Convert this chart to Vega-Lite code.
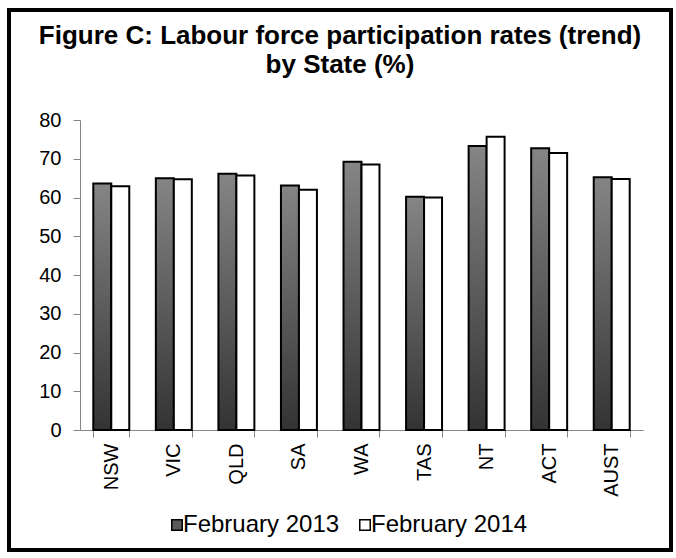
{
  "$schema": "https://vega.github.io/schema/vega-lite/v6.json",
  "width": 662,
  "height": 540,
  "autosize": {"type": "none"},
  "padding": {"left": 9, "top": 10, "right": 5, "bottom": 8},
  "background": "white",
  "title": {
    "text": ["Figure C: Labour force participation rates (trend)", "by State (%)"],
    "font": "Liberation Sans",
    "fontSize": 26,
    "fontWeight": "bold",
    "color": "black",
    "anchor": "middle",
    "frame": "group",
    "orient": "top",
    "baseline": "top",
    "offset": -68,
    "lineHeight": 29
  },
  "data": {
    "values": [
      {"state": "NSW", "series": "February 2013", "rate": 63.6},
      {"state": "NSW", "series": "February 2014", "rate": 62.9},
      {"state": "VIC", "series": "February 2013", "rate": 65.0},
      {"state": "VIC", "series": "February 2014", "rate": 64.7},
      {"state": "QLD", "series": "February 2013", "rate": 66.1},
      {"state": "QLD", "series": "February 2014", "rate": 65.7},
      {"state": "SA", "series": "February 2013", "rate": 63.1},
      {"state": "SA", "series": "February 2014", "rate": 62.0},
      {"state": "WA", "series": "February 2013", "rate": 69.2},
      {"state": "WA", "series": "February 2014", "rate": 68.5},
      {"state": "TAS", "series": "February 2013", "rate": 60.2},
      {"state": "TAS", "series": "February 2014", "rate": 60.0},
      {"state": "NT", "series": "February 2013", "rate": 73.3},
      {"state": "NT", "series": "February 2014", "rate": 75.7},
      {"state": "ACT", "series": "February 2013", "rate": 72.7},
      {"state": "ACT", "series": "February 2014", "rate": 71.5},
      {"state": "AUST", "series": "February 2013", "rate": 65.2},
      {"state": "AUST", "series": "February 2014", "rate": 64.8}
    ]
  },
  "mark": {"type": "bar", "stroke": "black", "strokeWidth": 2},
  "encoding": {
    "x": {
      "field": "state",
      "type": "nominal",
      "sort": ["NSW", "VIC", "QLD", "SA", "WA", "TAS", "NT", "ACT", "AUST"],
      "scale": {"range": [71, 634], "paddingInner": 0.425, "paddingOuter": 0.2125},
      "axis": {
        "orient": "bottom",
        "offset": -120,
        "title": null,
        "tickBand": "extent",
        "tickSize": 7,
        "labelAngle": -90,
        "labelPadding": 6,
        "labelFont": "Liberation Sans",
        "labelFontSize": 20,
        "labelColor": "black",
        "domainColor": "#868686",
        "tickColor": "#868686"
      }
    },
    "xOffset": {
      "field": "series",
      "type": "nominal",
      "scale": {"paddingInner": 0, "paddingOuter": 0}
    },
    "y": {
      "field": "rate",
      "type": "quantitative",
      "scale": {"domain": [0, 80], "range": [420, 110]},
      "axis": {
        "orient": "left",
        "offset": -71,
        "title": null,
        "grid": false,
        "values": [0, 10, 20, 30, 40, 50, 60, 70, 80],
        "tickSize": 7,
        "labelPadding": 12,
        "labelFont": "Liberation Sans",
        "labelFontSize": 20,
        "labelColor": "black",
        "domainColor": "#868686",
        "tickColor": "#868686"
      }
    },
    "fill": {
      "field": "series",
      "type": "nominal",
      "scale": {"domain": ["February 2013", "February 2014"], "range": ["#5a5a5a", "white"]},
      "condition": {
        "test": "datum.series === 'February 2013'",
        "value": {
          "gradient": "linear",
          "x1": 0, "y1": 0, "x2": 0, "y2": 1,
          "stops": [
            {"offset": 0, "color": "#858585"},
            {"offset": 1, "color": "#333333"}
          ]
        }
      },
      "legend": {
        "orient": "none",
        "legendX": 156,
        "legendY": 503,
        "direction": "horizontal",
        "title": null,
        "symbolType": "square",
        "symbolSize": 110,
        "symbolStrokeColor": "black",
        "symbolStrokeWidth": 1.5,
        "labelFont": "Liberation Sans",
        "labelFontSize": 24,
        "labelColor": "black",
        "labelOffset": -6,
        "columnPadding": 13
      }
    }
  },
  "config": {
    "view": {"stroke": "black", "strokeWidth": 4}
  }
}
